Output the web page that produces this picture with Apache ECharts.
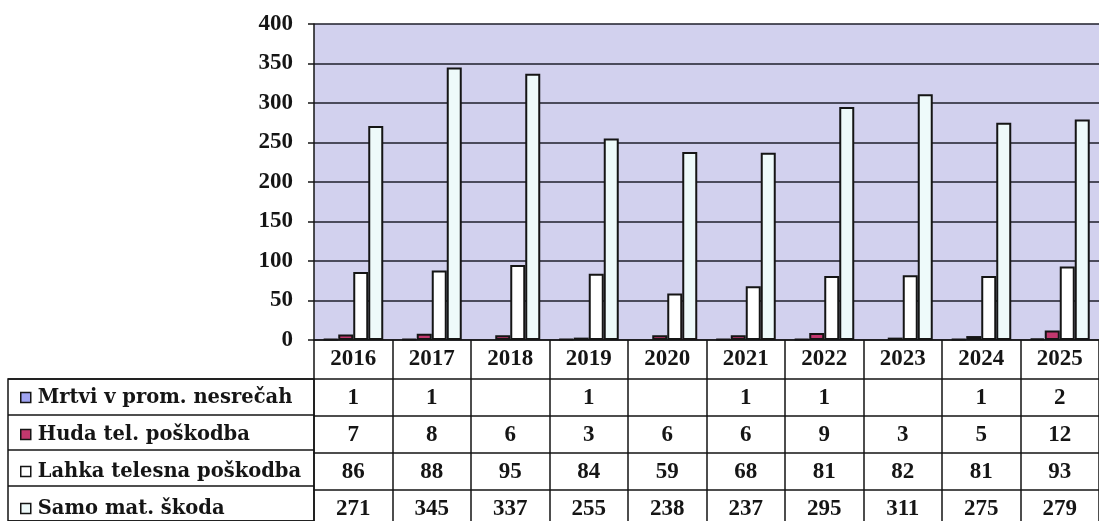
<!DOCTYPE html>
<html>
<head>
<meta charset="utf-8">
<script src="https://cdn.jsdelivr.net/npm/echarts@6/dist/echarts.min.js"></script>
<style>
html,body{margin:0;padding:0;background:#fff;}
#c{width:1099px;height:521px;}
</style>
</head>
<body>
<div id="c"></div>
<script>
var years = ['2016','2017','2018','2019','2020','2021','2022','2023','2024','2025'];
var seriesNames = ['Mrtvi v prom. nesrečah','Huda tel. poškodba','Lahka telesna poškodba','Samo mat. škoda'];
var mrtvi = [1, 1, null, 1, null, 1, 1, null, 1, 2];
var huda = [7, 8, 6, 3, 6, 6, 9, 3, 5, 12];
var lahka = [86, 88, 95, 84, 59, 68, 81, 82, 81, 93];
var samo = [271, 345, 337, 255, 238, 237, 295, 311, 275, 279];
var yTicks = [0, 50, 100, 150, 200, 250, 300, 350, 400];

var rows = [mrtvi, huda, lahka, samo];
var fills = ['#a0a4f2', '#c2386e', '#ffffff', '#eefafa'];
var FONT = '"Liberation Serif", "Times New Roman", serif';
var INK = '#151515';
var FS = 23;

var chart = echarts.init(document.getElementById('c'), null, {renderer: 'canvas'});

var xAxes = [{
  type: 'category', gridIndex: 0, data: years, position: 'bottom',
  axisLine: {show: true, lineStyle: {color: INK, width: 1.5}},
  axisTick: {show: true, length: 39, lineStyle: {color: INK, width: 1.5}},
  axisLabel: {margin: 8, fontSize: FS, fontWeight: 'bold', fontFamily: FONT, color: INK},
  splitLine: {show: false}
}];
rows.forEach(function (row, k) {
  xAxes.push({
    type: 'category', gridIndex: 0, data: years, position: 'bottom',
    offset: 39 + 37 * k,
    axisLine: {show: true, lineStyle: {color: INK, width: 1.5}},
    axisTick: {show: true, length: 37, lineStyle: {color: INK, width: 1.5}},
    axisLabel: {
      margin: 8, fontSize: FS, fontWeight: 'bold', fontFamily: FONT, color: INK,
      formatter: function (v, i) { return row[i] == null ? '' : String(row[i]); }
    },
    splitLine: {show: false}
  });
});
xAxes.push({type: 'value', gridIndex: 1, show: false});

var series = rows.map(function (row, k) {
  return {
    name: seriesNames[k], type: 'bar', xAxisIndex: 0, yAxisIndex: 0,
    data: row, barWidth: 15, barGap: '0%',
    itemStyle: {color: fills[k], borderColor: INK, borderWidth: 2},
    emphasis: {disabled: true}
  };
});

chart.setOption({
  animation: false,
  backgroundColor: '#ffffff',
  grid: [
    {left: 314, top: 24, width: 796, height: 316, show: true, backgroundColor: '#d2d1ee', borderWidth: 0},
    {left: 8, top: 379, width: 306, height: 148, show: true, backgroundColor: 'transparent', borderColor: INK, borderWidth: 1.5}
  ],
  legend: {
    orient: 'vertical', left: 20, top: 379, height: 200, itemGap: 0, padding: 0,
    itemWidth: 10, itemHeight: 10, icon: 'rect',
    selectedMode: false,
    data: seriesNames,
    itemStyle: {borderWidth: 1.5},
    textStyle: {fontSize: 19.5, fontWeight: 'bold', fontFamily: '"DejaVu Serif", serif', color: INK, lineHeight: 37, padding: [0, 0, 0, 2]}
  },
  xAxis: xAxes,
  yAxis: [
    {
      type: 'value', gridIndex: 0, min: yTicks[0], max: yTicks[yTicks.length - 1], interval: yTicks[1] - yTicks[0],
      axisLine: {show: true, lineStyle: {color: INK, width: 1.5}},
      axisTick: {show: true, length: 6, lineStyle: {color: INK, width: 1.5}},
      axisLabel: {margin: 21, fontSize: FS, fontWeight: 'bold', fontFamily: FONT, color: INK},
      splitLine: {show: true, lineStyle: {color: '#1e1e2a', width: 1.5}}
    },
    {
      type: 'category', gridIndex: 1, data: seriesNames, inverse: true,
      axisLine: {show: false}, axisTick: {show: false}, axisLabel: {show: false},
      splitLine: {show: true, lineStyle: {color: INK, width: 1.5}}
    }
  ],
  series: series
});
</script>
</body>
</html>
